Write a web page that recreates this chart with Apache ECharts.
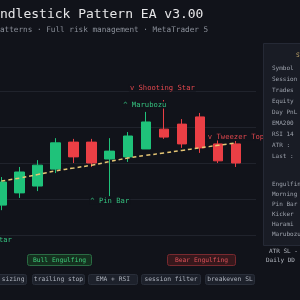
<!DOCTYPE html>
<html>
<head>
<meta charset="utf-8">
<script src="https://cdn.jsdelivr.net/npm/echarts@6/dist/echarts.min.js"></script>
<style>
html,body{margin:0;padding:0;background:#11131a}
#chart{width:300px;height:300px}
</style>
</head>
<body>
<div id="chart"></div>
<script>
// bars (M15)
var bars   = ['09:00','09:15','09:30','09:45','10:00','10:15','10:30','10:45','11:00','11:15','11:30','11:45','12:00','12:15'];
var opens  = [2308.3, 2311.7, 2313.6, 2318.3, 2325.8, 2325.8, 2321.1, 2321.7, 2323.9, 2329.4, 2330.8, 2332.8, 2325.3, 2325.3];
var closes = [2314.7, 2317.5, 2319.4, 2325.6, 2321.7, 2320.0, 2323.3, 2327.5, 2331.4, 2327.2, 2325.3, 2324.2, 2320.6, 2320.0];
var lows   = [2306.9, 2310.3, 2312.2, 2317.2, 2320.0, 2318.9, 2310.8, 2320.3, 2323.9, 2326.7, 2324.2, 2322.8, 2320.0, 2318.9];
var highs  = [2316.1, 2318.9, 2320.8, 2326.9, 2326.7, 2326.7, 2326.9, 2328.6, 2334.2, 2337.5, 2332.2, 2333.9, 2326.4, 2326.1];
var ema200 = [2315.0, 2315.8, 2316.8, 2317.8, 2318.6, 2319.4, 2320.4, 2321.4, 2322.1, 2322.8, 2323.5, 2324.2, 2324.9, 2325.6];
var yTicks = [2300, 2310, 2320, 2330, 2340, 2350];

// detected patterns
var patBars  = [9, 8, 6, 13];
var patNames = ['v Shooting Star', '^ Marubozu', '^ Pin Bar', 'v Tweezer Top'];
var patBear  = [true, false, false, true];

var statusRows  = ['Symbol', 'Session', 'Trades', 'Equity', 'Day PnL', 'EMA200', 'RSI 14', 'ATR :', 'Last :'];
var patternRows = ['Engulfing', 'Morning Star', 'Pin Bar', 'Kicker', 'Harami', 'Marubozu'];
var features    = ['lot sizing', 'trailing stop', 'EMA + RSI', 'session filter', 'breakeven SL'];

var BG = '#11131a', GREEN = '#1fc27a', RED = '#ea3f45';
var MONO = '"DejaVu Sans Mono", monospace';

var candles = bars.map(function (b, i) {
    return [opens[i], closes[i], lows[i], highs[i]];
});

// label offsets (pixels) per pattern
var patOffset = [[-1.5, -12], [-1, -7], [0, 5], [0, -4]];
var marks = patBars.map(function (b, i) {
    var bear = patBear[i];
    var v = (i == 2) ? lows[b] : highs[b];
    return {
        name: patNames[i],
        coord: [b, v],
        label: {
            show: true, formatter: patNames[i], position: 'inside',
            offset: patOffset[i],
            color: bear ? '#e0474e' : '#35c07f',
            fontFamily: MONO, fontSize: 7.2,
            backgroundColor: BG, padding: [0, 1]
        }
    };
});

var graphics = [];
function txt(x, y, s, color, size, align) {
    graphics.push({
        type: 'text', x: x, y: y, z: 10,
        style: { text: s, fill: color, font: size + 'px ' + MONO, align: align || 'left', verticalAlign: 'middle' }
    });
}
function box(x, y, w, h, s, fill, stroke, color, size) {
    graphics.push({
        type: 'rect', z: 9,
        shape: { x: x, y: y, width: w, height: h, r: 2 },
        style: { fill: fill, stroke: stroke, lineWidth: 1 }
    });
    txt(x + w / 2, y + h / 2, s, color, size, 'center');
}

// header
txt(-15.7, 15, 'Candlestick Pattern EA v3.00', '#e6e6e8', 13);
txt(-14, 30, '6 patterns · Full risk management · MetaTrader 5', '#8b909a', 7.7);

// side panel
graphics.push({
    type: 'rect', z: 8,
    shape: { x: 263.5, y: 43.5, width: 60, height: 202 },
    style: { fill: '#191c25', stroke: '#252935', lineWidth: 1 }
});
txt(296, 55, 'STATUS', '#c9ad6e', 6);
statusRows.forEach(function (s, i) { txt(272, 68 + i * 11, s, '#9ca1ab', 6); });
patternRows.forEach(function (s, i) { txt(272, 184 + i * 10, s, '#9ca1ab', 6); });
txt(269, 251, 'ATR SL -', '#b6bac3', 6);
txt(266, 260, 'Daily DD', '#b6bac3', 6);

// chart labels outside visible bars
txt(-48.7, 240, '^ Morning Star', '#35c07f', 7.2);

// signal badges
box(27.5, 254.5, 64, 11, 'Bull Engulfing', '#15301f', '#2a6b43', '#3fcf7c', 6.3);
box(167.5, 254.5, 68, 11, 'Bear Engulfing', '#36181c', '#78292f', '#e0525a', 6.3);

// feature chips
var chipX = [-15.5, 32.5, 88.5, 141.5, 205.5];
var chipW = [42, 52, 49, 59, 49];
features.forEach(function (s, i) {
    box(chipX[i], 274.5, chipW[i], 10, s, '#1d212b', '#292e39', '#aeb3bd', 6.3);
});

var option = {
    backgroundColor: BG,
    animation: false,
    grid: [
        { left: -7.5, right: 55, top: 55, bottom: 65, outerBoundsMode: 'none' },
        { left: 0, right: 44, top: 91, bottom: 65, outerBoundsMode: 'none' }
    ],
    xAxis: [
        { type: 'category', data: bars, boundaryGap: true, show: false, gridIndex: 0 },
        { type: 'value', min: 0, max: 1, show: false, gridIndex: 1 }
    ],
    yAxis: [
        { type: 'value', min: yTicks[0], max: yTicks[yTicks.length - 1], interval: 10, show: false, gridIndex: 0 },
        {
            type: 'value', min: yTicks[0], max: yTicks[yTicks.length - 2], interval: 10, gridIndex: 1,
            axisLine: { show: false }, axisTick: { show: false }, axisLabel: { show: false },
            splitLine: { show: true, lineStyle: { color: '#20232c', width: 1 } }
        }
    ],
    series: [
        {
            name: 'price', type: 'candlestick',
            data: candles, barWidth: 10,
            itemStyle: { color: GREEN, color0: RED, borderColor: GREEN, borderColor0: RED, borderWidth: 1 },
            markPoint: {
                symbol: 'rect', symbolSize: 1,
                itemStyle: { color: 'rgba(0,0,0,0)' },
                data: marks
            },
            z: 3
        },
        {
            name: 'EMA200', type: 'line', data: ema200,
            showSymbol: false, smooth: true,
            lineStyle: { color: '#e6c675', width: 1.5, type: [4, 3] },
            z: 4
        }
    ],
    graphic: graphics
};

var myChart = echarts.init(document.getElementById('chart'));
myChart.setOption(option);
</script>
</body>
</html>
